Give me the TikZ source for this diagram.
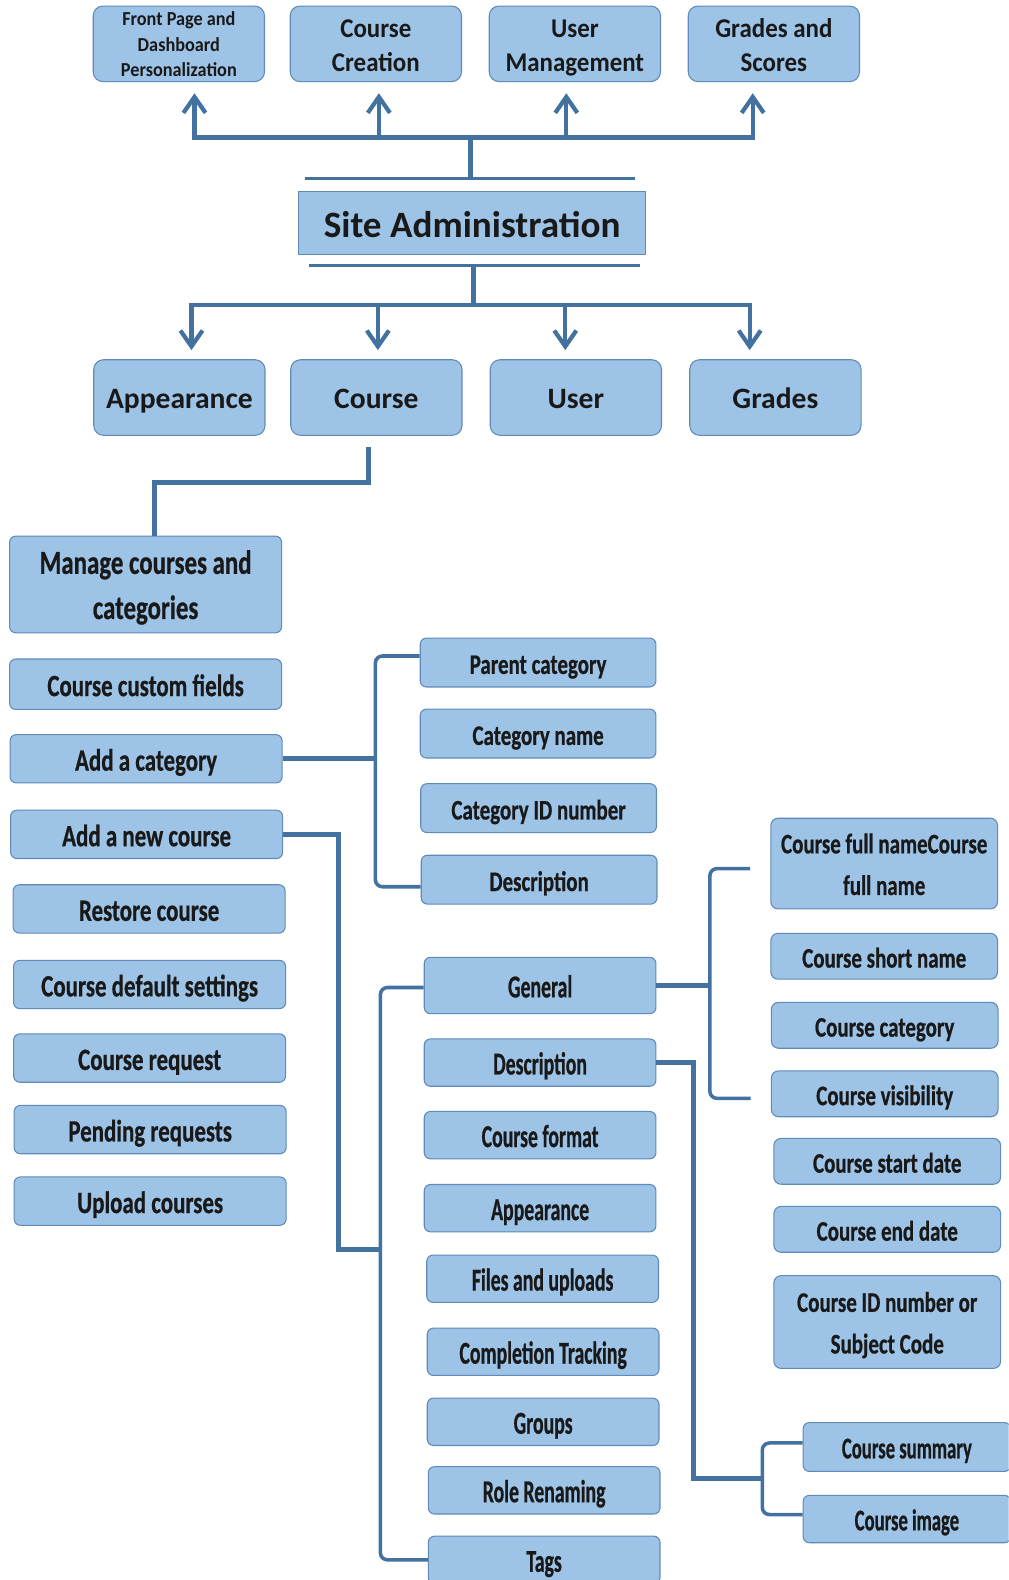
\documentclass[tikz,border=0pt]{standalone}
\usepackage{fontspec}
\usepackage{xcolor}
\usetikzlibrary{arrows.meta,calc}
\setmainfont{Carlito}
\newfontfamily\widefont{Carlito}
\newfontfamily\topfont[FakeStretch=0.92]{Carlito}
\newfontfamily\midfont[FakeStretch=0.74,BoldFeatures={FakeBold=0.6}]{Carlito}
\newfontfamily\slimfont[FakeStretch=0.62,BoldFeatures={FakeBold=0.6}]{Carlito}
\newcommand\boxstrut{\rule[-0.18\baselineskip]{0pt}{\baselineskip}}

\begin{document}
\begin{tikzpicture}[x=0.02cm,y=-0.02cm]
\definecolor{boxFill}{RGB}{157,195,230}
\definecolor{boxLine}{RGB}{96,138,184}
\definecolor{linkBlue}{RGB}{68,114,160}
\tikzset{
  box/.style={draw=boxLine, line width=0.6pt, fill=boxFill, align=center, inner sep=0pt, text=black!90,
    execute at begin node=\boxstrut, execute at end node=\boxstrut},
  tall/.style={execute at begin node={\rule{0pt}{#1}}},
  topbox/.style={box, tall=35pt, rounded corners=5.5pt, minimum width=3.4cm, minimum height=1.5cm, font=\topfont\bfseries\fontsize{15.3}{19.3}\selectfont},
  rowbox/.style={box, rounded corners=5.5pt, minimum width=3.4cm, minimum height=1.5cm, font=\widefont\bfseries\fontsize{16.7}{20}\selectfont},
  leftbox/.style={box, rounded corners=3.5pt, minimum width=5.4cm, minimum height=0.96cm, font=\midfont\bfseries\fontsize{17.5}{21}\selectfont},
  catbox/.style={box, rounded corners=3.5pt, minimum width=4.68cm, minimum height=0.97cm, font=\midfont\bfseries\fontsize{16}{20}\selectfont},
  setbox/.style={box, rounded corners=3.5pt, minimum width=4.6cm, minimum height=0.94cm, font=\slimfont\bfseries\fontsize{18}{21}\selectfont},
  detbox/.style={box, rounded corners=4pt, minimum width=4.5cm, minimum height=0.91cm, font=\midfont\bfseries\fontsize{16}{20}\selectfont},
  subbox/.style={box, rounded corners=3.5pt, minimum width=4.12cm, minimum height=0.97cm, font=\slimfont\bfseries\fontsize{17}{20}\selectfont},
  link/.style={draw=linkBlue, line width=2.4pt},
  bracket/.style={link, line width=2pt, rounded corners=4pt},
  arr/.style={link, -{Straight Barb[length=9pt,width=12.5pt]}}
}
\useasboundingbox (0,0) rectangle (1001,1568);
\clip (0,0) rectangle (1001,1568);

\node[topbox, tall=40pt, font=\topfont\bfseries\fontsize{11.2}{14.6}\selectfont] (fp) at (177.5,43.5) {Front Page and\\Dashboard\\Personalization};
\node[topbox] (cc) at (373,43.5) {Course\\Creation};
\node[topbox] (um) at (570.5,43.5) {User\\Management};
\node[topbox] (gs) at (768,43.5) {Grades and\\Scores};

\node[box, minimum width=6.9cm, minimum height=1.26cm, font=\widefont\bfseries\fontsize{21}{25}\selectfont] (sa) at (468.5,221.5) {Site Administration};

\node[rowbox] (app) at (178,394.5) {Appearance};
\node[rowbox] (crs) at (373.5,394.5) {Course};
\node[rowbox] (usr) at (571.5,394.5) {User};
\node[rowbox] (grd) at (769.5,394.5) {Grades};

\node[leftbox, tall=43.6pt, minimum height=1.92cm, font=\midfont\bfseries\fontsize{19}{25.5}\selectfont] (mng) at (144.5,580) {Manage courses and\\categories};
\node[leftbox, minimum height=1cm] (ccf) at (144.5,679) {Course custom fields};
\node[leftbox] (adc) at (145,753) {Add a category};
\node[leftbox] (anc) at (145.5,828) {Add a new course};
\node[leftbox] (rst) at (148,902) {Restore course};
\node[leftbox] (cds) at (148.5,977) {Course default settings};
\node[leftbox] (crq) at (148.5,1050) {Course request};
\node[leftbox] (pnd) at (149,1121) {Pending requests};
\node[leftbox] (upl) at (149,1192) {Upload courses};

\node[catbox] (pc) at (534,657.5) {Parent category};
\node[catbox] (cn) at (534,728) {Category name};
\node[catbox] (cid) at (534.5,802) {Category ID number};
\node[catbox] (dsc) at (535,873) {Description};

\node[setbox, minimum height=1.12cm] (gen) at (536,978) {General};
\node[setbox] (sdesc) at (536,1054.5) {Description};
\node[setbox] (fmt) at (536,1126.5) {Course format};
\node[setbox] (sapp) at (536,1199) {Appearance};
\node[setbox] (fil) at (538.5,1269) {Files and uploads};
\node[setbox] (cmp) at (539,1341.5) {Completion Tracking};
\node[setbox] (grp) at (539,1411) {Groups};
\node[setbox] (rol) at (540,1479) {Role Renaming};
\node[setbox] (tag) at (540,1548) {Tags};

\node[detbox, tall=39.7pt, minimum height=1.8cm, font=\midfont\bfseries\fontsize{16}{23.5}\selectfont] (cfn) at (877.5,857) {Course full nameCourse\\full name};
\node[detbox] (csn) at (877.5,949) {Course short name};
\node[detbox] (ccat) at (878,1017.5) {Course category};
\node[detbox] (cvis) at (878,1085.5) {Course visibility};
\node[detbox] (csd) at (880.5,1152.5) {Course start date};
\node[detbox] (ced) at (880.5,1220) {Course end date};
\node[detbox, tall=39.7pt, minimum height=1.84cm, font=\midfont\bfseries\fontsize{16}{23.5}\selectfont] (cidn) at (880.5,1312) {Course ID number or\\Subject Code};

\node[subbox] (csum) at (900,1436) {Course summary};
\node[subbox, minimum height=0.94cm] (cimg) at (900,1507.5) {Course image};

\draw[link, line width=1.8pt] ($(sa.north west)+(7,-12)$) -- ($(sa.north east)+(-11,-12)$);
\draw[link, line width=1.8pt] ($(sa.south west)+(11,10)$) -- ($(sa.south east)+(-6,10)$);

\coordinate (busT) at ($(sa.north)+(-1.5,-53)$);
\coordinate (fpIn) at ($(fp.south)+(15.5,11)$);
\coordinate (ccIn) at ($(cc.south)+(3,11)$);
\coordinate (umIn) at ($(um.south)+(-8.5,11)$);
\coordinate (gsIn) at ($(gs.south)+(-21,11)$);
\draw[link] ($(sa.north)+(-1.5,-12)$) -- (busT);
\draw[arr] (busT) -| (fpIn);
\draw[arr] (busT) -| (gsIn);
\draw[arr] (ccIn |- busT) -- (ccIn);
\draw[arr] (umIn |- busT) -- (umIn);

\coordinate (stemB) at ($(sa.south)+(1.5,10)$);
\coordinate (busB) at ($(stemB)+(0,39)$);
\coordinate (appIn) at ($(app.north)+(12,-9)$);
\coordinate (crsIn) at ($(crs.north)+(1.5,-9)$);
\coordinate (usrIn) at ($(usr.north)+(-10.5,-9)$);
\coordinate (grdIn) at ($(grd.north)+(-25.5,-9)$);
\draw[link] (stemB) -- (busB);
\draw[arr] (busB) -| (appIn);
\draw[arr] (busB) -| (grdIn);
\draw[arr] (crsIn |- busB) -- (crsIn);
\draw[arr] (usrIn |- busB) -- (usrIn);

\draw[link, line width=3pt] ($(crs.south)+(-7.5,11)$) -- ++(0,35) -| ($(mng.north)+(8.5,0)$);

\draw[link, line width=3pt] (adc.east) -- ++(93,0);
\draw[bracket] ($(pc.west)+(0,-6.5)$) -- ++(-44,0) |- ($(dsc.west)+(0,7)$);

\coordinate (setJ) at ($(gen.west)+(-43,262)$);
\draw[bracket] ($(gen.west)+(0,2)$) -- ++(-43,0) |- (tag.west);
\draw[link, line width=3pt] (anc.east) -- ++(55,0) |- (setJ);

\draw[link, line width=3pt] (gen.east) -- ++(54,0);
\draw[bracket] ($(cfn.west)+(-20,5)$) -- ++(-40,0) |- ($(cvis.west)+(-20,4.5)$);

\coordinate (sumJ) at ($(csum.west)+(-40,31)$);
\draw[link, line width=3pt] (sdesc.east) -- ++(37,0) |- (sumJ);
\draw[bracket] ($(csum.west)+(0,-4)$) -- ++(-40,0) |- ($(cimg.west)+(0,-4.5)$);
\end{tikzpicture}
\end{document}
